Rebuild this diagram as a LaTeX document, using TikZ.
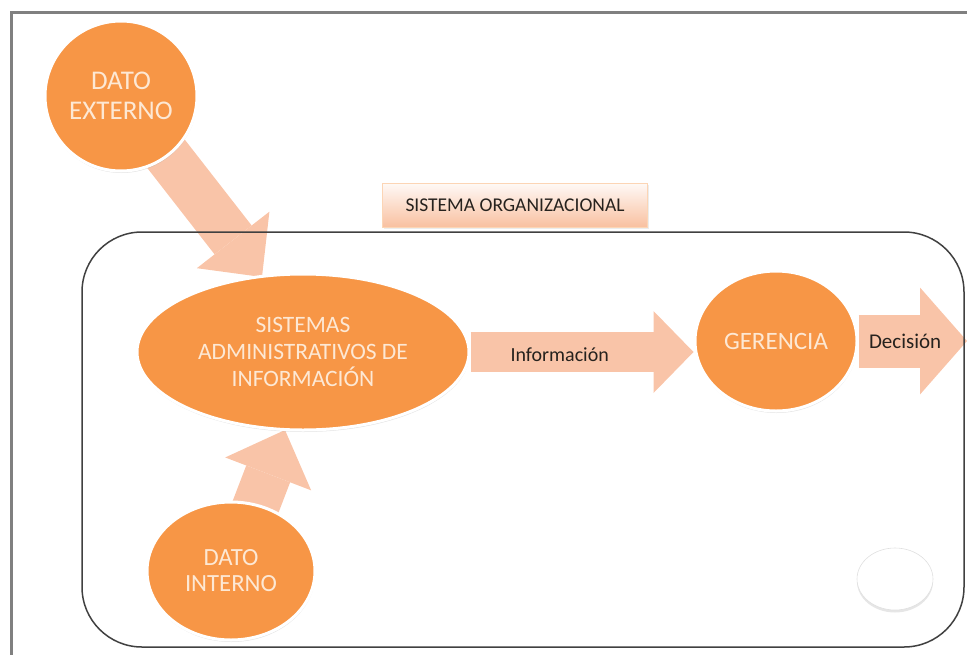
\documentclass[tikz,border=0pt]{standalone}
\usepackage{fontspec}
\setmainfont{Carlito}
\usepackage{tikz}
\usetikzlibrary{shapes, arrows.meta, positioning, shadows, backgrounds}
\pgfdeclarelayer{front}
\pgfsetlayers{background,main,front}
\definecolor{orangefill}{RGB}{247,150,70}
\definecolor{salmon}{RGB}{249,196,168}
\definecolor{cream}{RGB}{253,232,212}
\definecolor{framegray}{RGB}{128,128,128}
\definecolor{darktext}{RGB}{38,34,30}
\tikzstyle{onode} = [ellipse, fill=orangefill, draw=white, line width=3pt, text=cream, align=center, inner sep=0pt, drop shadow={opacity=0.22, shadow xshift=0.5pt, shadow yshift=-2pt}]
\tikzstyle{bigarrow} = [draw=salmon, line width=47pt, -{Triangle[line width=0pt, length=47pt, width=92pt]}]
\tikzstyle{alabel} = [text=darktext, inner sep=0pt]

\begin{document}
\begin{tikzpicture}[x=1pt, y=-1pt]
				\useasboundingbox (0,0) rectangle (967,654);
				\draw [framegray, line width=3pt] (11,12) rectangle (990,680);

				\node [draw=orangefill!40, top color=white!90!salmon, bottom color=salmon!92!orangefill, minimum width=265pt, minimum height=44pt, inner sep=0pt, font=\fontsize{19.5}{20}\selectfont, text=darktext, drop shadow={opacity=0.15, shadow xshift=1pt, shadow yshift=-1.5pt}] (org) at (515,205) {SISTEMA ORGANIZACIONAL};

				\node [onode, minimum width=152pt, minimum height=150pt, font=\fontsize{27}{30}\selectfont] (dext) at (121,96) {DATO\\EXTERNO};
				\node [onode, minimum width=332pt, minimum height=156pt, font=\fontsize{23.5}{27}\selectfont] (sis) at (303,352) {SISTEMAS\\ADMINISTRATIVOS DE\\INFORMACIÓN};
				\node [onode, minimum width=162pt, minimum height=140pt, font=\fontsize{25}{30}\selectfont] (ger) at (776,341) {GERENCIA};
				\node [onode, minimum width=168pt, minimum height=138pt, font=\fontsize{24.7}{26}\selectfont] (dint) at (231,571) {DATO\\INTERNO};
				\node [ellipse, fill=white, draw=black!12, line width=0.6pt, minimum width=76pt, minimum height=62pt, drop shadow={opacity=0.2, shadow xshift=0pt, shadow yshift=-2.5pt}] (knob) at (895,579) {};

				\coordinate (tipA) at (262,277);
				\coordinate (tipB) at (285,430);
				\coordinate (decEnd) at (967,341);

				\begin{pgfonlayer}{front}
				\draw [black!75, line width=1.5pt, rounded corners=60pt] (82,232) rectangle (964,647);
				\end{pgfonlayer}

				\begin{scope}[on background layer]
				\path [bigarrow] (dext.center) -- (tipA);
				\path [bigarrow] (dint.center) -- (tipB);
				\path [bigarrow, line width=40pt, -{Triangle[line width=0pt, length=40pt, width=82pt]}] (sis.east) -- (sis.east -| ger.west)
					node [alabel, pos=0.40, yshift=-3pt, font=\fontsize{20}{20}\selectfont] {Información};
				\path [bigarrow, line width=53pt, -{Triangle[line width=0pt, length=47pt, width=107pt]}] (ger.east) -- (decEnd)
					node [alabel, pos=0.43, font=\fontsize{21}{21}\selectfont] {Decisión};
				\end{scope}
			\end{tikzpicture}
\end{document}
